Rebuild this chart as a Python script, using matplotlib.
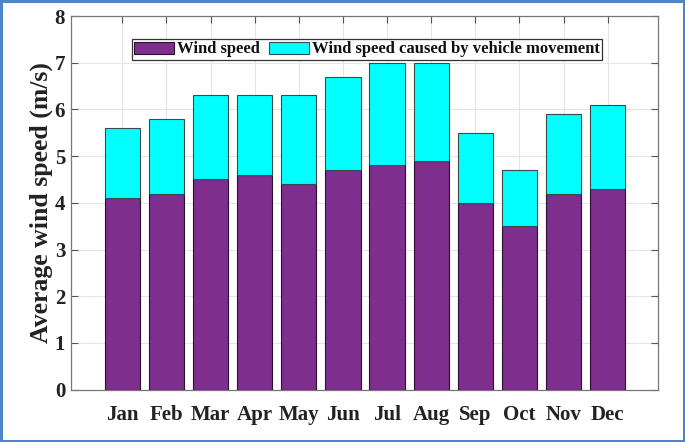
import matplotlib
matplotlib.use("Agg")
import matplotlib.pyplot as plt
from matplotlib.patches import Rectangle
import numpy as np

months = ["Jan", "Feb", "Mar", "Apr", "May", "Jun", "Jul", "Aug", "Sep", "Oct", "Nov", "Dec"]
wind_speed = [4.1, 4.2, 4.5, 4.6, 4.4, 4.7, 4.8, 4.9, 4.0, 3.5, 4.2, 4.3]
vehicle_wind = [1.5, 1.6, 1.8, 1.7, 1.9, 2.0, 2.2, 2.1, 1.5, 1.2, 1.7, 1.8]
yticks = [0, 1, 2, 3, 4, 5, 6, 7, 8]

plt.rcParams['font.family'] = ['Liberation Serif', 'DejaVu Serif']
plt.rcParams['font.weight'] = 'bold'

fig = plt.figure(figsize=(6.85, 4.42), dpi=100)
ax = fig.add_axes([0.1032, 0.1183, 0.9600 - 0.1032, 0.9638 - 0.1183])

x = np.arange(len(months))
ax.bar(x, wind_speed, width=0.8, color='#7E2F8E', edgecolor='#2a1030', linewidth=0.8,
       label='Wind speed', zorder=3)
ax.bar(x, vehicle_wind, width=0.8, bottom=wind_speed, color='#00FFFF', edgecolor='#3a4a4a',
       linewidth=0.8, label='Wind speed caused by vehicle movement', zorder=3)

ax.set_xlim(-1.17, 12.13)
ax.set_ylim(0, 8)
ax.set_yticks(yticks)
ax.set_xticks(x)
ax.set_xticklabels(months)
ax.tick_params(axis='both', direction='in', length=5, width=0.8, colors='#555555',
               labelcolor='#222222', labelsize=15, top=True, right=True)
ax.tick_params(axis='x', pad=11)
ax.tick_params(axis='y', pad=4)
for lab in ax.get_xticklabels() + ax.get_yticklabels():
    lab.set_fontweight('bold')
ax.grid(True, color='#e6e6e6', linewidth=0.8, zorder=0)
ax.set_axisbelow(True)
for s in ax.spines.values():
    s.set_color('#777777')
    s.set_linewidth(0.9)

ax.set_ylabel('Average wind speed (m/s)', fontsize=18.5, fontweight='bold', color='#222222', labelpad=1)

leg = ax.legend(loc='upper center', bbox_to_anchor=(0.5048, 0.9385), ncol=2, fontsize=12,
                frameon=True, fancybox=False, edgecolor='#333333', framealpha=1,
                handlelength=2.4, handleheight=0.75, handletextpad=0.2, columnspacing=0.5,
                borderpad=0.15, borderaxespad=0.0)
leg.get_frame().set_linewidth(0.9)
for t in leg.get_texts():
    t.set_fontweight('bold')
    t.set_color('#111111')

fig.patches.append(Rectangle((0.002, 0.003), 0.996, 0.994, transform=fig.transFigure,
                             fill=False, edgecolor='#4a86c8', linewidth=2.2))

fig.savefig('out.png', dpi=100)
